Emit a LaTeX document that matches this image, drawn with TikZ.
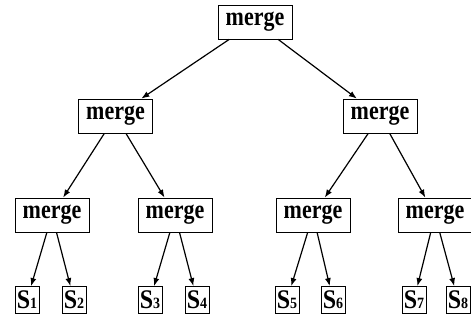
\documentclass[tikz,border=0pt]{standalone}
\usepackage{fontspec}
\setmainfont{Liberation Serif}
\usepackage{graphicx}
\usepackage{tikz}
\usetikzlibrary{arrows.meta}
\tikzstyle{merge}=[draw, line width=0.8pt, minimum width=74pt, minimum height=34pt, inner sep=0pt, font=\fontsize{22}{24}\selectfont\bfseries]
\tikzstyle{leaf}=[draw, line width=0.8pt, minimum width=24pt, minimum height=27pt, inner sep=0pt, font=\fontsize{24}{26}\selectfont\bfseries]
\tikzstyle{arr}=[-{Latex[length=8pt,width=6pt]}, line width=1.2pt]
\newcommand{\mrg}{\scalebox{1}[1.2]{merge}}
\newcommand{\seq}[1]{\scalebox{1}[1.12]{S{\fontsize{14}{14}\selectfont #1}}}

\begin{document}
\begin{tikzpicture}[x=1pt,y=-1pt]
\useasboundingbox (0,0) rectangle (471,320);

% root
\node[merge] (m) at (255,22) {\mrg};

% second level
\node[merge] (ml) at (115.5,116) {\mrg};
\node[merge] (mr) at (380,116) {\mrg};

% third level
\node[merge] (mll) at (52,215) {\mrg};
\node[merge] (mlr) at (175,215) {\mrg};
\node[merge] (mrl) at (313,215) {\mrg};
\node[merge] (mrr) at (435,215) {\mrg};

% leaves
\node[leaf] (s1) at (27,300) {\seq{1}};
\node[leaf] (s2) at (74,300) {\seq{2}};
\node[leaf] (s3) at (150,300) {\seq{3}};
\node[leaf] (s4) at (197,300) {\seq{4}};
\node[leaf] (s5) at (287,300) {\seq{5}};
\node[leaf] (s6) at (333,300) {\seq{6}};
\node[leaf] (s7) at (414,300) {\seq{7}};
\node[leaf] (s8) at (458,300) {\seq{8}};

% arrows
\draw[arr] (m) -- (ml);
\draw[arr] (m) -- (mr);
\draw[arr] (ml) -- (mll);
\draw[arr] (ml) -- (mlr);
\draw[arr] (mr) -- (mrl);
\draw[arr] (mr) -- (mrr);
\draw[arr] (mll) -- (s1);
\draw[arr] (mll) -- (s2);
\draw[arr] (mlr) -- (s3);
\draw[arr] (mlr) -- (s4);
\draw[arr] (mrl) -- (s5);
\draw[arr] (mrl) -- (s6);
\draw[arr] (mrr) -- (s7);
\draw[arr] (mrr) -- (s8);

\end{tikzpicture}
\end{document}
